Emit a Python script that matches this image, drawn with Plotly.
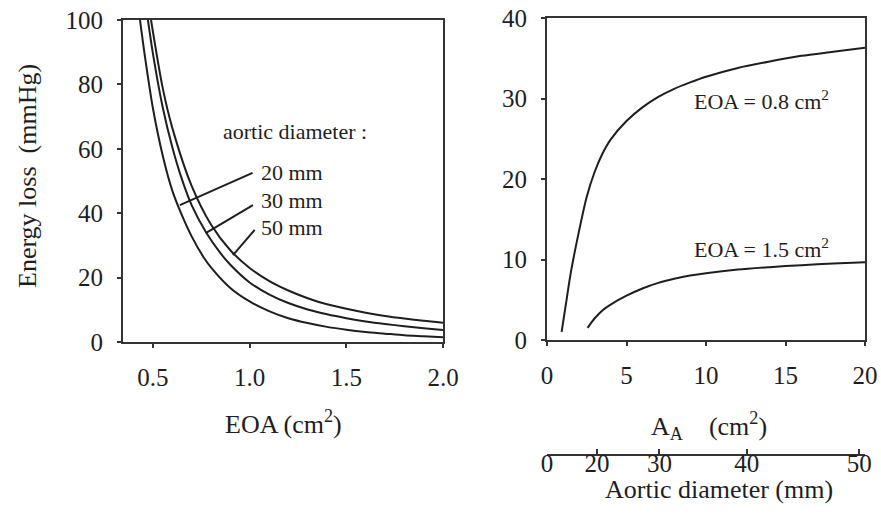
import plotly.graph_objects as go
import math

# ---- Left panel: energy loss vs EOA for three aortic diameters ----
eoa_20 = [0.433, 0.46, 0.5, 0.55, 0.6, 0.65, 0.7, 0.76, 0.8, 0.9, 1.0, 1.1, 1.2, 1.3, 1.4, 1.5, 1.6, 1.7, 1.8, 1.9, 2.0]
el_20 = [100, 88, 72.5, 58, 47, 39.3, 32.8, 26.5, 23.2, 16.8, 12.6, 9.6, 7.4, 5.9, 4.7, 3.8, 3.1, 2.6, 2.1, 1.8, 1.5]

eoa_30 = [0.474, 0.5, 0.55, 0.6, 0.65, 0.7, 0.775, 0.85, 0.9, 1.0, 1.1, 1.2, 1.3, 1.4, 1.5, 1.6, 1.7, 1.8, 1.9, 2.0]
el_30 = [100, 89.5, 73, 60.5, 50.5, 42.5, 34, 27.5, 24, 18.5, 14.8, 12.1, 10.1, 8.6, 7.4, 6.4, 5.6, 4.9, 4.3, 3.7]

eoa_50 = [0.49, 0.55, 0.6, 0.7, 0.8, 0.9, 1.0, 1.1, 1.2, 1.3, 1.4, 1.5, 1.6, 1.7, 1.8, 1.9, 2.0]
el_50 = [100, 79, 66.5, 48.5, 36.5, 28.5, 23.0, 19.0, 16.0, 13.6, 11.7, 10.3, 9.1, 8.1, 7.3, 6.6, 6.0]

# ---- Right panel: energy loss vs aortic area A_A for two EOAs ----
aa_08 = [0.92, 1.2, 1.5, 2.0, 2.5, 3.0, 3.5, 4.0, 5.0, 6.0, 7.0, 8.0, 9.0, 10.0, 12.0, 14.0, 16.0, 18.0, 20.0]
el_08 = [1.0, 4.6, 8.4, 13.4, 17.8, 20.9, 23.2, 24.9, 27.2, 28.9, 30.2, 31.2, 32.0, 32.7, 33.8, 34.6, 35.3, 35.8, 36.3]

aa_15 = [2.55, 2.8, 3.0, 3.5, 4.0, 5.0, 6.0, 7.0, 8.0, 9.0, 10.0, 12.0, 14.0, 16.0, 18.0, 20.0]
el_15 = [1.5, 2.2, 2.7, 3.7, 4.4, 5.5, 6.4, 7.1, 7.6, 8.0, 8.3, 8.75, 9.05, 9.3, 9.5, 9.65]

# Secondary axis: aortic diameter ticks (mm)
diam_ticks = [0, 20, 30, 40, 50]
diam_pos = [math.pi * (d / 10.0) ** 2 / 4.0 for d in diam_ticks]  # area in cm^2

left_xticks = [0.5, 1.0, 1.5, 2.0]
left_xticklabels = ["0.5", "1.0", "1.5", "2.0"]
left_yticks = [0, 20, 40, 60, 80, 100]
right_xticks = [0, 5, 10, 15, 20]
right_yticks = [0, 10, 20, 30, 40]

FONT = "Liberation Serif"
INK = "#1e1e1e"
W, H = 881, 518

def px(xp):
    return xp / W

def py(yp):
    return (H - yp) / H

fig = go.Figure()
line = dict(color=INK, width=2)
for xs, ys, nm in [(eoa_20, el_20, "20 mm"), (eoa_30, el_30, "30 mm"), (eoa_50, el_50, "50 mm")]:
    fig.add_trace(go.Scatter(x=xs, y=ys, mode="lines", line=dict(line, shape="spline", smoothing=0.8),
                             name=nm, xaxis="x", yaxis="y", showlegend=False))
for xs, ys, nm in [(aa_08, el_08, "EOA 0.8"), (aa_15, el_15, "EOA 1.5")]:
    fig.add_trace(go.Scatter(x=xs, y=ys, mode="lines", line=dict(line, shape="spline", smoothing=0.8),
                             name=nm, xaxis="x2", yaxis="y2", showlegend=False))
# invisible trace for third axis
fig.add_trace(go.Scatter(x=[0, 20], y=[0, 0], mode="lines", line=dict(width=0),
                         xaxis="x3", yaxis="y3", showlegend=False, hoverinfo="skip"))

tickfont = dict(family=FONT, size=25, color=INK)
common = dict(showline=True, linecolor="#333", linewidth=2, mirror=True, showgrid=False,
              zeroline=False, ticks="outside", ticklen=4, tickcolor="#333", tickwidth=1.5,
              tickfont=tickfont, automargin=False, ticklabeloverflow="allow")

fig.update_layout(
    template="none",
    width=W, height=H, autosize=False,
    margin=dict(l=0, r=0, t=0, b=0, pad=0),
    paper_bgcolor="white", plot_bgcolor="white",
    font=dict(family=FONT, size=22, color=INK),
    xaxis=dict(common, domain=[px(123), px(443)], range=[0.345, 2.0], anchor="y",
               tickvals=left_xticks, ticktext=left_xticklabels, ticklabelstandoff=8),
    yaxis=dict(common, domain=[py(342), py(20)], range=[0, 100], anchor="x",
               tickvals=left_yticks, ticklabelstandoff=9),
    xaxis2=dict(common, domain=[px(547), px(865)], range=[0, 20], anchor="y2",
                tickvals=right_xticks, ticklabelstandoff=8),
    yaxis2=dict(common, domain=[py(340), py(18)], range=[0, 40], anchor="x2",
                tickvals=right_yticks, ticklabelstandoff=9),
    xaxis3=dict(domain=[px(547), px(865)], range=[0, 20], anchor="y3", side="bottom",
                showline=True, linecolor="#333", linewidth=2, mirror=False, showgrid=False,
                zeroline=False, ticks="inside", ticklen=5, tickcolor="#333", tickwidth=1.5,
                tickvals=diam_pos, ticktext=[str(d) for d in diam_ticks], tickfont=tickfont,
                ticklabelstandoff=-14, automargin=False, ticklabeloverflow="allow"),
    yaxis3=dict(domain=[py(454), py(440)], range=[0, 1], anchor="x3", visible=False,
                automargin=False),
)

annfont = dict(family=FONT, size=22, color=INK)
titlefont = dict(family=FONT, size=26, color=INK)
ann = [
    dict(text="aortic diameter :", x=0.854, y=65.3, xref="x", yref="y", xanchor="left", yanchor="middle", font=annfont, showarrow=False),
    dict(text="20 mm", x=1.046, y=52.5, xref="x", yref="y", xanchor="left", yanchor="middle", font=annfont, showarrow=False),
    dict(text="30 mm", x=1.046, y=44.1, xref="x", yref="y", xanchor="left", yanchor="middle", font=annfont, showarrow=False),
    dict(text="50 mm", x=1.046, y=35.5, xref="x", yref="y", xanchor="left", yanchor="middle", font=annfont, showarrow=False),
    dict(text="EOA = 0.8 cm<sup>2</sup>", x=9.1, y=29.8, xref="x2", yref="y2", xanchor="left", yanchor="middle", font=annfont, showarrow=False),
    dict(text="EOA = 1.5 cm<sup>2</sup>", x=9.1, y=11.4, xref="x2", yref="y2", xanchor="left", yanchor="middle", font=annfont, showarrow=False),
    dict(text="Energy loss&nbsp;&nbsp;(mmHg)", x=px(27), y=py(176), xref="paper", yref="paper", textangle=-90, xanchor="center", yanchor="middle", font=titlefont, showarrow=False),
    dict(text="EOA (cm<sup>2</sup>)", x=px(283), y=py(422), xref="paper", yref="paper", xanchor="center", yanchor="middle", font=titlefont, showarrow=False),
    dict(text="A<sub>A</sub>&nbsp;&nbsp;&nbsp;&nbsp;(cm<sup>2</sup>)", x=px(709), y=py(426), xref="paper", yref="paper", xanchor="center", yanchor="middle", font=titlefont, showarrow=False),
    dict(text="Aortic diameter (mm)", x=px(719), y=py(489), xref="paper", yref="paper", xanchor="center", yanchor="middle", font=titlefont, showarrow=False),
]
fig.update_layout(annotations=ann)

leader = dict(color=INK, width=2)
fig.update_layout(shapes=[
    dict(type="line", xref="x", yref="y", x0=1.015, y0=52.5, x1=0.639, y1=42.5, line=leader),
    dict(type="line", xref="x", yref="y", x0=1.017, y0=42.5, x1=0.773, y1=33.8, line=leader),
    dict(type="line", xref="x", yref="y", x0=1.026, y0=34.8, x1=0.914, y1=27.0, line=leader),
])

fig.write_html("out.html", config={"displayModeBar": False},
               post_script="document.body.style.margin='0';document.body.style.overflow='hidden';")
